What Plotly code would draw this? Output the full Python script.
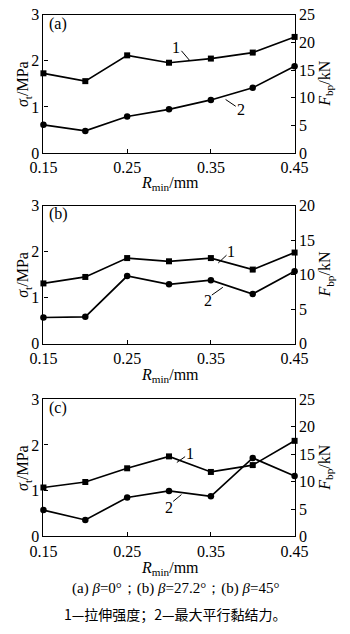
import plotly.graph_objects as go

# ---- data ----
r_min = [0.15, 0.20, 0.25, 0.30, 0.35, 0.40, 0.45]
a_sigma = [1.73, 1.56, 2.12, 1.96, 2.05, 2.18, 2.52]
a_fbp = [5.1, 4.0, 6.6, 7.9, 9.6, 11.8, 15.7]
b_sigma = [1.31, 1.45, 1.86, 1.79, 1.86, 1.61, 1.98]
b_fbp = [3.8, 3.9, 9.8, 8.6, 9.2, 7.2, 10.5]
c_sigma = [1.07, 1.19, 1.49, 1.75, 1.41, 1.56, 2.09]
c_fbp = [4.8, 3.0, 7.1, 8.3, 7.3, 14.3, 11.0]
x_ticks = [0.15, 0.25, 0.35, 0.45]
left_range = [0, 3]
right_ranges = [[0, 25], [0, 20], [0, 25]]
panel_labels = ["(a)", "(b)", "(c)"]
caption1 = "(a) <i>β</i>=0°；(b) <i>β</i>=27.2°；(b) <i>β</i>=45°"
caption2 = "1—拉伸强度；2—最大平行黏结力。"

W, H = 350, 634
SERIF = "Times New Roman, Liberation Serif, DejaVu Serif, serif"
CJK = "Noto Sans CJK SC"

# panel geometry in pixels (top, bottom)
L, R = 32, 305
panels = [(7, 149), (203, 345), (402, 543)]

def px(xp):
    return xp / W

def py(yp):
    return 1 - yp / H

fig = go.Figure()
series = [(a_sigma, a_fbp), (b_sigma, b_fbp), (c_sigma, c_fbp)]
line = dict(color="black", width=1.7)

for i, (sig, fbp) in enumerate(series):
    xa = "x" if i == 0 else f"x{i+1}"
    yl = "y" if i == 0 else f"y{2*i+1}"
    yr = f"y{2*i+2}"
    fig.add_trace(go.Scatter(x=r_min, y=sig, xaxis=xa, yaxis=yl, mode="lines+markers",
                             line=line, marker=dict(symbol="square", size=6, color="black"),
                             cliponaxis=False, showlegend=False))
    fig.add_trace(go.Scatter(x=r_min, y=fbp, xaxis=xa, yaxis=yr, mode="lines+markers",
                             line=line, marker=dict(symbol="circle", size=6.5, color="black"),
                             cliponaxis=False, showlegend=False))

axis_common = dict(showline=True, linecolor="black", linewidth=1.2, ticks="inside",
                   ticklen=4, tickcolor="black", showgrid=False, zeroline=False,
                   tickfont=dict(family=SERIF, size=16, color="black"))

layout = dict(width=W, height=H, margin=dict(l=0, r=0, t=0, b=0),
              paper_bgcolor="white", plot_bgcolor="white", showlegend=False,
              font=dict(family=SERIF, color="black"))

for i, (top, bot) in enumerate(panels):
    xk = "xaxis" if i == 0 else f"xaxis{i+1}"
    ylk = "yaxis" if i == 0 else f"yaxis{2*i+1}"
    yrk = f"yaxis{2*i+2}"
    xa = "x" if i == 0 else f"x{i+1}"
    yl = "y" if i == 0 else f"y{2*i+1}"
    dom_y = [py(bot), py(top)]
    layout[xk] = dict(axis_common, domain=[px(L), px(R)], range=[0.15, 0.45],
                      tickvals=x_ticks, ticktext=[f"{v:.2f}" for v in x_ticks],
                      anchor=yl, mirror=True, ticklabelstandoff=0)
    layout[ylk] = dict(axis_common, domain=dom_y, range=left_range, dtick=1,
                       anchor=xa, side="left")
    layout[yrk] = dict(axis_common, domain=dom_y, range=right_ranges[i], dtick=5,
                       anchor=xa, overlaying=yl, side="right")

fig.update_layout(**layout)

ann = []
def text(xp, yp, t, size=16, font=SERIF, angle=0):
    ann.append(dict(x=px(xp), y=py(yp), xref="paper", yref="paper", text=t,
                    showarrow=False, textangle=angle, xanchor="center", yanchor="middle",
                    font=dict(family=font, size=size, color="black")))

shapes = []
def seg(x0, y0, x1, y1):
    shapes.append(dict(type="line", xref="paper", yref="paper", x0=px(x0), y0=py(y0),
                       x1=px(x1), y1=py(y1), line=dict(color="black", width=1)))

x_title_y = [180, 378, 576]
for i, (top, bot) in enumerate(panels):
    mid = (top + bot) / 2
    text(48, top + 9, panel_labels[i], size=16)
    text(11, mid, "<i>σ</i><sub>t</sub>/MPa", size=16, angle=-90)
    text(339, mid, "<i>F</i><sub>bp</sub>/kN", size=16, angle=-90)
    text(170, x_title_y[i], "<i>R</i><sub>min</sub>/mm", size=16)

# curve labels with leader lines
text(176, 41, "1"); seg(182, 44, 191, 54)
text(247, 104, "2"); seg(230, 94, 241, 101)
text(236, 250, "1"); seg(231, 254, 222, 262)
text(211, 301, "2"); seg(215, 295, 227, 287)
text(191, 458, "1"); seg(186, 461, 177, 467)
text(169, 513, "2"); seg(173, 507, 182, 500)

text(176, 597, caption1, size=15)
text(175, 623, caption2, size=14, font=CJK)

fig.update_layout(annotations=ann, shapes=shapes)
fig.write_html("out.html")
